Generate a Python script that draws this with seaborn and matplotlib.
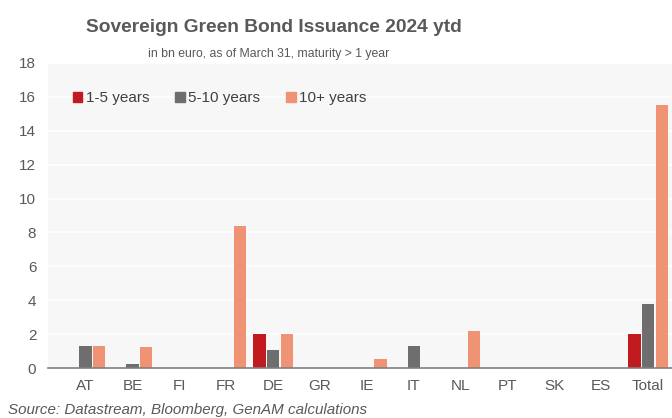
import matplotlib
matplotlib.use("Agg")
import matplotlib.pyplot as plt
import pandas as pd
import seaborn as sns

countries = ["AT", "BE", "FI", "FR", "DE", "GR", "IE", "IT", "NL", "PT", "SK", "ES", "Total"]
y1_5 = [0, 0, 0, 0, 2.0, 0, 0, 0, 0, 0, 0, 0, 2.0]
y5_10 = [1.3, 0.25, 0, 0, 1.05, 0, 0, 1.3, 0, 0, 0, 0, 3.8]
y10p = [1.3, 1.25, 0, 8.4, 2.0, 0, 0.55, 0, 2.2, 0, 0, 0, 15.5]
series = ["1-5 years", "5-10 years", "10+ years"]
COLORS = {"1-5 years": "#C21B1F", "5-10 years": "#6E6E6E", "10+ years": "#F09274"}

df = pd.DataFrame({"country": countries, series[0]: y1_5, series[1]: y5_10, series[2]: y10p})
dfm = df.melt(id_vars="country", var_name="maturity", value_name="value")

sns.set_style("white")
plt.rcParams["font.family"] = ["Liberation Sans", "DejaVu Sans"]
BG = "#F7F7F7"
TXT = "#595959"

fig = plt.figure(figsize=(6.72, 4.18), dpi=100)
ax = fig.add_axes([48 / 672, 1 - 368 / 418, 1 - 48 / 672, 305 / 418])
ax.set_facecolor(BG)

sns.barplot(dfm, x="country", y="value", hue="maturity", order=countries,
            hue_order=series, palette=COLORS, width=0.87, gap=0.1, saturation=1,
            linewidth=0, ax=ax, legend=False)

ax.set_ylim(0, 18)
ax.set_yticks(range(0, 19, 2))
ax.set_xlim(-0.8, 12.51)
ax.yaxis.grid(True, color="white", lw=1.2)
ax.set_axisbelow(True)
for s in ["top", "right", "left"]:
    ax.spines[s].set_visible(False)
ax.spines["bottom"].set_color("#7F7F7F")
ax.spines["bottom"].set_linewidth(1.2)
ax.tick_params(axis="both", length=0, labelsize=11, colors=TXT, pad=8)
ax.tick_params(axis="y", pad=8.4)
ax.set_xlabel("")
ax.set_ylabel("")

handles = [plt.Rectangle((0, 0), 1, 1, color=COLORS[s]) for s in series]
ax.legend(handles, series, ncol=3, frameon=False, loc="upper left",
          bbox_to_anchor=(0.018, 0.952), fontsize=11, handlelength=0.6,
          handleheight=0.6, handletextpad=0.25, columnspacing=1.7,
          labelcolor="#404040")

fig.text(274 / 672, 1 - 27 / 418, "Sovereign Green Bond Issuance 2024 ytd",
         ha="center", va="center", fontsize=13.8, fontweight="bold", color=TXT)
fig.text(269 / 672, 1 - 54 / 418, "in bn euro, as of March 31, maturity > 1 year",
         ha="center", va="center", fontsize=8.8, color=TXT)
fig.text(8 / 672, 1 - 410 / 418, "Source: Datastream, Bloomberg, GenAM calculations",
         ha="left", va="center", fontsize=10.9, style="italic", color=TXT)

fig.savefig("out.png", dpi=100)
